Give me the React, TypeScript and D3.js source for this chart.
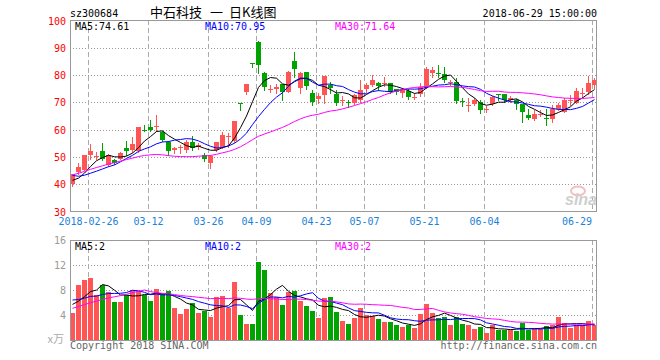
import React from "react";
import * as d3 from "d3";

const dates = ["02-14","02-22","02-23","02-26","02-27","02-28","03-01","03-02","03-05","03-06","03-07","03-08","03-09","03-12","03-13","03-14","03-15","03-16","03-19","03-20","03-21","03-22","03-23","03-26","03-27","03-28","03-29","03-30","04-02","04-03","04-04","04-09","04-10","04-11","04-12","04-13","04-16","04-17","04-18","04-19","04-20","04-23","04-24","04-25","04-26","04-27","05-02","05-03","05-04","05-07","05-08","05-09","05-10","05-11","05-14","05-15","05-16","05-17","05-18","05-21","05-22","05-23","05-24","05-25","05-28","05-29","05-30","05-31","06-01","06-04","06-05","06-06","06-07","06-08","06-11","06-12","06-13","06-14","06-15","06-19","06-20","06-21","06-22","06-25","06-26","06-27","06-28","06-29"];

const opens = [40.4,44.8,45.5,50.8,50.3,52.3,47.1,49.2,49.6,53.5,52.6,52.5,60.2,61.2,61.3,59.4,55.7,52.7,53.3,52.7,55.7,53.9,51.0,47.8,52.7,54.0,57.5,56.0,69.9,74.1,84.6,92.2,80.8,75.0,75.2,76.9,74.1,85.3,75.5,81.2,73.5,71.5,72.8,76.5,73.2,70.8,70.3,69.8,71.2,74.9,76.5,77.4,77.0,77.1,75.0,73.7,74.4,72.0,73.2,75.7,80.8,81.0,80.5,77.3,77.5,70.5,69.0,69.5,70.4,67.5,69.5,73.1,73.1,71.0,71.2,69.4,65.5,64.2,65.6,64.5,64.2,67.6,66.7,70.8,70.0,73.2,74.0,76.5];
const highs = [43.9,48.0,51.0,55.0,52.0,55.3,51.2,49.6,52.1,56.0,57.5,61.2,62.0,63.7,65.5,59.6,56.0,53.9,54.5,56.5,57.8,55.4,51.6,50.8,55.7,59.4,58.8,63.5,70.0,77.0,84.6,92.5,81.4,76.5,76.9,77.0,81.5,88.8,81.4,81.4,74.7,73.5,80.0,77.5,74.7,72.5,71.2,73.4,78.3,77.4,80.2,77.6,79.3,77.3,75.2,75.3,74.9,73.5,77.1,83.2,83.2,83.9,83.2,78.3,79.0,71.9,71.9,71.9,71.0,68.8,72.5,73.2,73.3,72.6,71.4,69.5,67.6,67.3,67.3,67.6,69.1,70.0,71.6,72.8,75.3,75.3,79.9,79.2];
const lows = [39.6,44.1,45.3,49.5,49.6,49.0,46.8,47.5,49.4,51.0,52.0,52.0,59.6,59.6,59.6,56.0,50.8,51.7,51.5,52.0,52.7,53.0,48.7,46.3,52.3,53.5,54.0,55.5,67.3,73.2,83.3,81.0,74.7,74.1,73.7,71.0,73.8,79.5,73.7,75.0,69.2,69.8,69.8,73.7,69.2,69.2,68.6,69.6,70.4,74.1,76.0,74.7,76.3,73.5,73.1,72.2,71.4,71.4,72.6,75.5,79.6,79.6,77.7,76.5,70.0,68.8,67.1,69.2,66.1,66.8,69.3,71.0,70.4,70.4,67.9,63.0,64.2,63.6,65.2,61.8,63.0,67.3,66.5,69.1,69.8,72.2,73.4,75.3];
const closes = [43.8,46.5,50.8,52.2,50.6,49.6,50.8,48.0,51.7,52.3,55.1,61.0,59.8,60.0,61.6,56.3,52.3,53.3,54.0,55.6,53.3,54.5,49.3,50.5,55.5,58.2,57.8,63.3,69.7,76.9,84.5,83.9,75.9,75.2,75.7,74.1,81.4,82.3,80.8,76.3,70.4,72.5,79.8,75.3,70.1,71.2,70.0,72.8,74.7,76.5,78.3,76.3,77.2,74.0,74.1,74.7,72.2,72.3,75.7,82.4,82.0,80.7,78.3,77.6,70.8,70.3,69.3,71.0,67.3,67.8,72.2,72.9,71.0,71.8,69.4,66.7,64.5,65.8,65.9,64.0,67.6,69.1,71.0,71.1,74.3,73.5,77.1,78.3];
const volumes = [4.37,8.8,9.6,9.97,7.2,8.8,7.73,6.13,6.13,7.2,8.0,7.9,7.2,6.3,8.16,7.36,7.9,5.17,4.16,4.96,5.87,4.37,4.64,3.73,6.88,7.04,5.17,9.33,4.0,2.56,2.56,12.53,11.2,7.47,6.93,5.6,7.73,7.9,6.3,5.44,4.64,3.52,6.67,6.83,4.43,3.04,2.56,3.52,5.07,3.97,3.89,3.36,2.88,2.88,2.4,2.08,2.4,1.92,4.16,5.76,4.32,3.52,3.68,2.4,3.68,2.56,2.4,1.76,2.08,1.12,2.4,1.6,1.6,1.6,1.44,2.72,1.6,1.76,1.76,2.24,2.4,3.68,2.72,1.92,2.4,2.4,3.04,2.4];

// estimated history before the visible window (needed for the moving averages)
const priorCloses = [29.0,29.5,30.0,30.5,31.0,31.5,32.5,34.0,36.0,39.6,43.5,47.9,52.7,57.9,60.5,61,60,58,56,53,49.5,47,45,43,41.5,42.5,41.5,40.2,40.0];
const priorVolumes = [0.4,0.3,0.3,0.4,0.4,0.5,0.5,0.6,0.6,0.8,0.9,1.0,14,13,11,10,9,8.5,8,7.9,8,7.5,7,6.8,6.2,6.2,6.0,5.9,6.0];

const priceTicks = [100,90,80,70,60,50,40,30];
const volumeTicks = [16,12,8,4];
const dateTicks = ["02-26","03-12","03-26","04-09","04-23","05-07","05-21","06-04","06-29"];
const dateTickLabels = ["2018-02-26","03-12","03-26","04-09","04-23","05-07","05-21","06-04","06-29"];
const maPeriods = [5,10,30];
const maColors = ["#000000","#0000ff","#ff00ff"];
const priceMaLabels = ["MA5:74.61","MA10:70.95","MA30:71.64"];
const volumeMaLabels = ["MA5:2","MA10:2","MA30:2"];

const RED = "#ff5555";
const GREEN = "#00a300";
const MONO = "'DejaVu Sans Mono', 'Liberation Mono', monospace";
const CJK = "'Noto Sans CJK SC', sans-serif";

function movingAvg(arr: number[], prior: number[], n: number): number[] {
  const full = prior.concat(arr);
  return arr.map((_, i) => {
    const end = prior.length + i + 1;
    return d3.mean(full.slice(end - n, end)) as number;
  });
}

export default function App() {
  const L = 70, R = 597;
  const PT = 20, PB = 212;
  const VT = 240, VB = 340;
  const idx = d3.range(dates.length);
  const x = d3.scaleBand<number>().domain(idx).range([L, R]).paddingInner(1 / 6).paddingOuter(0);
  const bw = x.bandwidth();
  const yp = d3.scaleLinear().domain([30, 100]).range([212, 21]);
  const yv = d3.scaleLinear().domain([0, 16]).range([VB, VT]);
  const cx = (i: number) => Math.round(x(i) as number) + 2.5;

  const priceMAs = maPeriods.map((n) => movingAvg(closes, priorCloses, n));
  const volMAs = maPeriods.map((n) => movingAvg(volumes, priorVolumes, n));
  const linePrice = d3.line<number>().x((_, i) => cx(i)).y((d) => yp(d));
  const lineVol = d3.line<number>().x((_, i) => cx(i)).y((d) => yv(d));

  const tickX = dateTicks.map((d) => Math.round(x(dates.indexOf(d)) as number) + 0.5);

  return (
    <svg width={660} height={360} style={{ position: "absolute", left: 0, top: 0, background: "#fff" }}>
      {/* header */}
      <text x={70} y={17} fontFamily={MONO} fontSize={10} fill="#000">sz300684</text>
      <text x={150} y={17} fontFamily={CJK} fontSize={13} fill="#000">中石科技</text>
      <text x={210} y={17} fontFamily={CJK} fontSize={13} fill="#000">一</text>
      <text x={229} y={17} fontFamily={CJK} fontSize={13} fill="#000">日K线图</text>
      <text x={597} y={16.5} fontFamily={MONO} fontSize={10} fill="#000" textAnchor="end">2018-06-29 15:00:00</text>

      {/* price grid */}
      {priceTicks.slice(1, -1).map((t) => (
        <line key={"hg" + t} x1={L} x2={R} y1={Math.floor(yp(t)) + 0.5} y2={Math.floor(yp(t)) + 0.5} stroke="#999" strokeDasharray="1,2" />
      ))}
      {tickX.map((tx, k) => (
        <line key={"vg" + k} x1={tx} x2={tx} y1={PT} y2={PB} stroke="#aaa" strokeDasharray="5,3" />
      ))}
      {priceTicks.map((t) => (
        <text key={"pl" + t} x={66} y={yp(t) + 3.5} fontFamily={MONO} fontSize={10} fill="#ff0000" textAnchor="end">{t}</text>
      ))}
      {dateTickLabels.map((s, k) => (
        <text key={"dl" + k} x={k === dateTickLabels.length - 1 ? tickX[k] - 0.5 : tickX[k]} y={225} fontFamily={MONO} fontSize={10} fill="#1a82d8"
          textAnchor={k === dateTickLabels.length - 1 ? "end" : "middle"}>{s}</text>
      ))}

      {/* sina watermark */}
      <ellipse cx={578} cy={191} rx={7} ry={4.5} fill="none" stroke="#f3c0c0" strokeWidth={2} />
      <text x={597} y={205} fontFamily="'Liberation Sans', sans-serif" fontStyle="italic" fontWeight="bold" fontSize={16} fill="#cfcfcf" textAnchor="end">sina</text>

      {/* candles */}
      {idx.map((i) => {
        const o = opens[i], c = closes[i];
        const col = c >= o ? RED : GREEN;
        const bx = Math.round(x(i) as number);
        const top = Math.round(yp(Math.max(o, c)));
        const bot = Math.round(yp(Math.min(o, c)));
        return (
          <g key={"c" + i}>
            <line x1={bx + 2.5} x2={bx + 2.5} y1={Math.round(yp(highs[i]))} y2={Math.round(yp(lows[i])) + 1} stroke={col} />
            <rect x={bx} y={top} width={bw} height={Math.max(1, bot - top)} fill={col} />
          </g>
        );
      })}
      {priceMAs.map((m, k) => (
        <path key={"pm" + k} d={linePrice(m) || ""} fill="none" stroke={maColors[k]} strokeWidth={1} />
      ))}
      {priceMaLabels.map((s, k) => (
        <text key={"pml" + k} x={75 + 130 * k} y={30} fontFamily={MONO} fontSize={10} fill={maColors[k]}>{s}</text>
      ))}
      <rect x={L + 0.5} y={PT + 0.5} width={R - L - 1} height={PB - PT - 1} fill="none" stroke="#999" />

      {/* volume */}
      {volumeTicks.slice(1).map((t) => (
        <line key={"vhg" + t} x1={L} x2={R} y1={Math.floor(yv(t)) + 0.5} y2={Math.floor(yv(t)) + 0.5} stroke="#999" strokeDasharray="1,2" />
      ))}
      {tickX.map((tx, k) => (
        <line key={"vvg" + k} x1={tx} x2={tx} y1={VT} y2={VB} stroke="#aaa" strokeDasharray="5,3" />
      ))}
      {volumeTicks.map((t) => (
        <text key={"vl" + t} x={66} y={yv(t) + 3.5} fontFamily={MONO} fontSize={10} fill="#999" textAnchor="end">{t}</text>
      ))}
      <text x={64} y={343} fontFamily={CJK} fontSize={11} fill="#aaa" textAnchor="end">x万</text>
      {idx.map((i) => {
        const col = closes[i] >= opens[i] ? RED : GREEN;
        const bx = Math.round(x(i) as number);
        const top = Math.round(yv(volumes[i]));
        return <rect key={"v" + i} x={bx} y={top} width={bw} height={VB - top} fill={col} />;
      })}
      {volMAs.map((m, k) => (
        <path key={"vm" + k} d={lineVol(m) || ""} fill="none" stroke={maColors[k]} strokeWidth={1} />
      ))}
      {volumeMaLabels.map((s, k) => (
        <text key={"vml" + k} x={75 + 130 * k} y={250} fontFamily={MONO} fontSize={10} fill={maColors[k]}>{s}</text>
      ))}
      <rect x={L + 0.5} y={VT + 0.5} width={R - L - 1} height={VB - VT} fill="none" stroke="#999" />

      <text x={70} y={349} fontFamily={MONO} fontSize={10} fill="#666">Copyright 2018 SINA.COM</text>
      <text x={597} y={349} fontFamily={MONO} fontSize={10} fill="#666" textAnchor="end">http://finance.sina.com.cn</text>
    </svg>
  );
}
